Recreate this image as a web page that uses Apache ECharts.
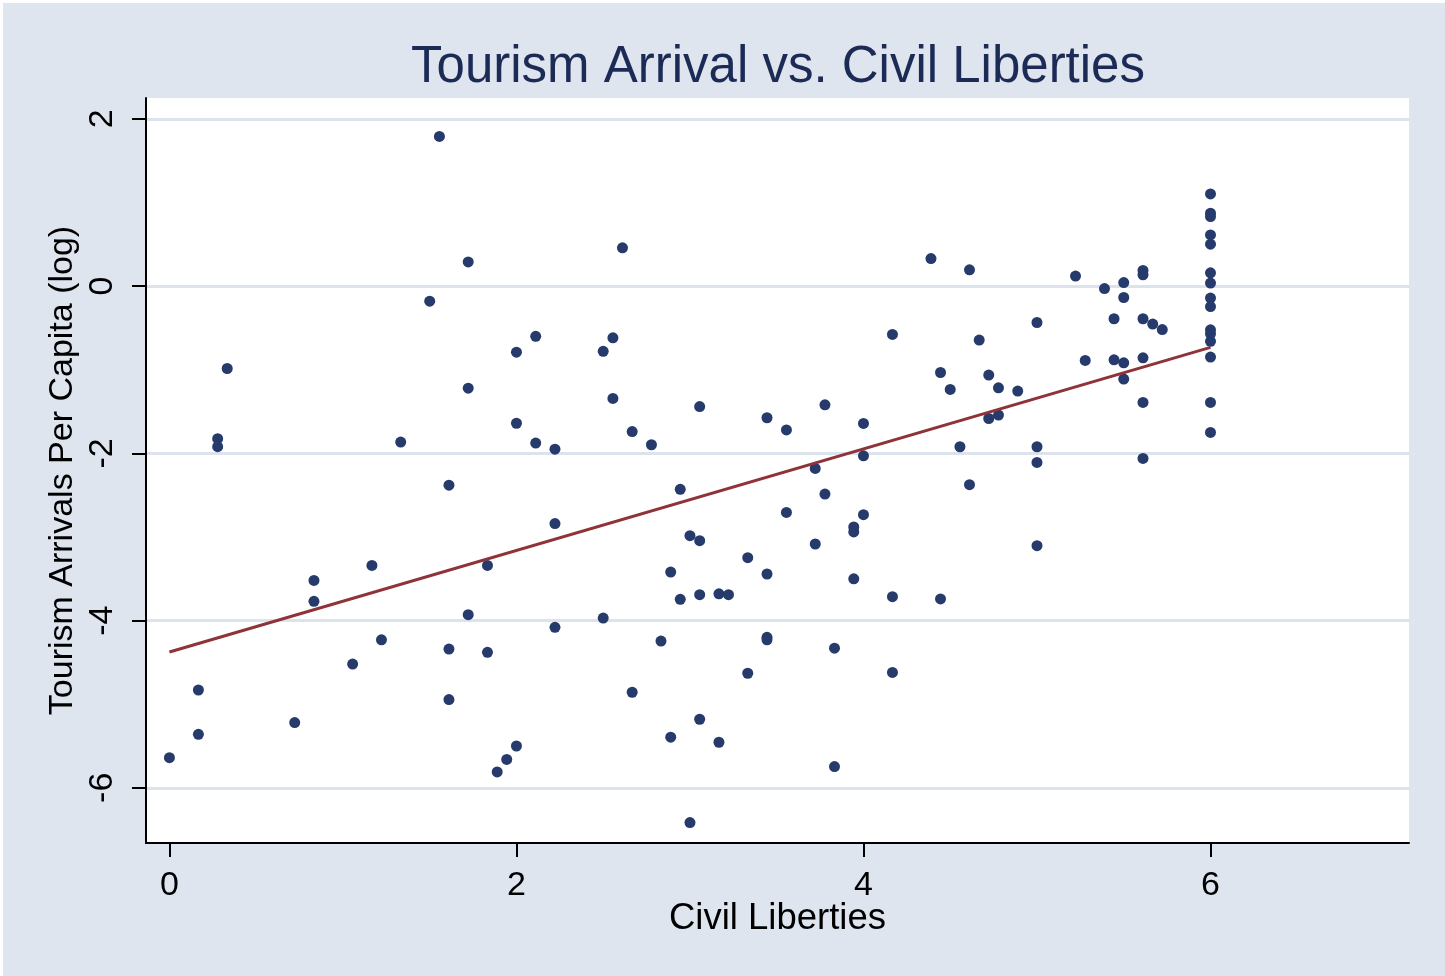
<!DOCTYPE html>
<html>
<head>
<meta charset="utf-8">
<script src="https://cdn.jsdelivr.net/npm/echarts@6/dist/echarts.min.js"></script>
<style>
  html, body { margin: 0; padding: 0; background: #ffffff; width: 1445px; height: 976px; overflow: hidden; }
  #chart { position: absolute; left: 3px; top: 3px; width: 1442px; height: 973px; }
</style>
</head>
<body>
<div id="chart"></div>
<script>
// ---- Data ----
const titleText = 'Tourism Arrival vs. Civil Liberties';
const xAxisTitle = 'Civil Liberties';
const yAxisTitle = 'Tourism Arrivals Per Capita (log)';

const xTicks = [0, 2, 4, 6];
const yTicks = [-6, -4, -2, 0, 2];

// civil liberties (x) of each country
const civilLiberties = [
  1.556, 1.722, 1.500, 2.111, 2.000, 0.333, 1.722, 2.000, 0.278, 0.278, 1.333, 2.111, 2.222,
  1.611, 2.222, 1.833, 1.167, 0.833, 0.833, 1.722, 2.222, 1.222, 1.611, 1.833, 1.056, 0.167,
  1.611, 0.722, 0.167, 0.000, 2.000, 1.944, 1.889,
  2.611, 2.556, 2.500, 4.167, 2.556, 2.667, 2.778, 3.056, 3.444, 3.556, 3.778, 4.000, 4.000,
  3.722, 2.944, 3.778, 3.556, 4.000,
  3.000, 3.056, 3.944, 3.944, 3.722, 3.333, 2.889, 3.444, 3.944, 2.944, 3.056, 3.167, 3.222,
  4.167, 2.500, 2.833, 3.444, 3.444, 3.833, 3.333, 4.167, 2.667, 3.056, 2.889, 3.167, 3.833, 3.000,
  6, 6, 6, 6, 6, 6, 6, 6, 6, 6, 6, 6, 6, 6, 6,
  4.389, 4.611, 5.222, 5.611, 5.611, 5.500, 5.389, 5.500, 5.444, 5.611, 5.000, 5.667, 5.722,
  4.667, 5.278, 5.444, 5.500, 5.611, 4.444, 4.722, 5.500, 4.500, 4.778, 4.889, 5.611, 4.722,
  4.778, 4.556, 5.000, 5.000, 5.611,
  4.611, 5.000, 4.444
];

// tourism arrivals per capita, log (y) of each country
const tourismLog = [
  1.79, 0.29, -0.18, -0.60, -0.79, -0.985, -1.22, -1.64, -1.825, -1.92, -1.865, -1.877, -1.95,
  -2.38, -2.84, -3.34, -3.34, -3.52, -3.77, -3.93, -4.08, -4.23, -4.34, -4.38, -4.52, -4.83,
  -4.945, -5.22, -5.36, -5.64, -5.50, -5.66, -5.81,
  0.458, -0.618, -0.78, -0.578, -1.343, -1.74, -1.897, -1.44, -1.574, -1.72, -1.419, -1.642, -2.03,
  -2.18, -2.43, -2.487, -2.706, -2.734,
  -2.985, -3.045, -2.88, -2.94, -3.084, -3.248, -3.42, -3.443, -3.50, -3.745, -3.69, -3.68, -3.69,
  -3.714, -3.97, -4.245, -4.20, -4.23, -4.33, -4.63, -4.62, -4.857, -5.18, -5.395, -5.455, -5.746, -6.415,
  1.103, 0.873, 0.832, 0.613, 0.502, 0.159, 0.036, -0.143, -0.244, -0.522, -0.57, -0.66, -0.849, -1.391, -1.75,
  0.33, 0.195, 0.12, 0.187, 0.135, 0.043, -0.029, -0.136, -0.39, -0.39, -0.435, -0.454, -0.519,
  -0.645, -0.889, -0.881, -0.917, -0.857, -1.033, -1.064, -1.112, -1.236, -1.216, -1.255, -1.391, -1.583,
  -1.542, -1.921, -1.921, -2.108, -2.06,
  -2.375, -3.104, -3.741
];

// fitted line end points
const fitX = [0, 6];
const fitY = [-4.375, -0.733];

// ---- Build ----
const points = civilLiberties.map((x, i) => [x, tourismLog[i]]);
const fitLine = fitX.map((x, i) => [x, fitY[i]]);

const FONT = "'Liberation Sans', Arial, Helvetica, sans-serif";
const chart = echarts.init(document.getElementById('chart'), null, { renderer: 'canvas' });

chart.setOption({
  backgroundColor: '#DEE5EF',
  animation: false,
  title: {
    text: titleText,
    left: 775,
    top: 39,
    textAlign: 'center',
    padding: 0,
    textStyle: { fontFamily: FONT, fontSize: 51, fontWeight: 'normal', color: '#1C2A56' }
  },
  grid: {
    left: 143, top: 95, right: 36, bottom: 133,
    show: true, backgroundColor: '#ffffff', borderWidth: 0,
    containLabel: false
  },
  xAxis: {
    type: 'value',
    min: -0.135, max: 7.144,
    name: xAxisTitle,
    nameLocation: 'middle',
    nameGap: 57,
    nameMoveOverlap: false,
    nameTextStyle: { fontFamily: FONT, fontSize: 36.5, color: '#000' },
    axisLine: { show: true, onZero: false, lineStyle: { color: '#000', width: 2 } },
    axisTick: { show: true, length: 14, customValues: xTicks, lineStyle: { color: '#000', width: 2 } },
    axisLabel: { customValues: xTicks, margin: 26, fontFamily: FONT, fontSize: 34, color: '#000' },
    splitLine: { show: false }
  },
  yAxis: {
    type: 'value',
    min: -6.66, max: 2.25,
    name: yAxisTitle,
    nameLocation: 'middle',
    nameGap: 66,
    nameRotate: 90,
    nameMoveOverlap: false,
    nameTextStyle: { fontFamily: FONT, fontSize: 34, color: '#000' },
    axisLine: { show: true, onZero: false, lineStyle: { color: '#000', width: 2 } },
    axisTick: { show: true, length: 14, customValues: yTicks, lineStyle: { color: '#000', width: 2 } },
    axisLabel: { customValues: yTicks, rotate: 90, margin: 26, fontFamily: FONT, fontSize: 34, color: '#000' },
    splitLine: { show: true, lineStyle: { color: '#DCE3ED', width: 3 } }
  },
  series: [
    {
      type: 'scatter',
      data: points,
      symbol: 'circle',
      symbolSize: 11,
      itemStyle: { color: '#263B6C', opacity: 1 },
      z: 2
    },
    {
      type: 'line',
      data: fitLine,
      symbol: 'none',
      lineStyle: { color: '#8F3339', width: 3 },
      z: 3
    }
  ]
});
</script>
</body>
</html>
